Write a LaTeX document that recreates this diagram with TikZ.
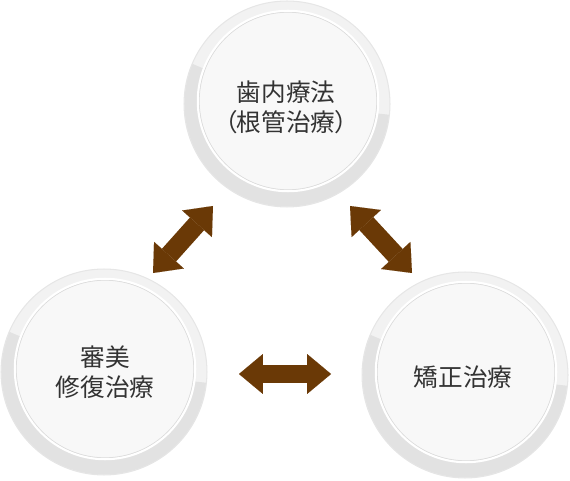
\documentclass[tikz,border=0pt]{standalone}
\usepackage{fontspec}
\setmainfont[RawFeature=+palt]{Noto Sans CJK JP}
\usetikzlibrary{arrows.meta}

\definecolor{ringlight}{HTML}{F2F2F2}
\definecolor{ringdark}{HTML}{E2E2E2}
\definecolor{ringedge}{HTML}{E6E6E6}
\definecolor{discfill}{HTML}{F8F8F8}
\definecolor{discline}{HTML}{DADADA}
\definecolor{arrowbrown}{HTML}{6A3906}
\definecolor{labeltext}{HTML}{333333}

\begin{document}
\begin{tikzpicture}[
    x=0.02cm, y=0.02cm,
    every node/.style={font=\fontsize{14}{17}\selectfont, text=labeltext},
    ring/.style={circle, fill=ringlight, draw=ringedge, line width=0.6pt, minimum size=4.12cm, inner sep=0pt},
    disc/.style={circle, fill=discfill, draw=discline, line width=0.7pt, minimum size=3.56cm, inner sep=0pt},
    rim/.style={draw=white, line width=1.2pt},
    caption/.style={align=center, inner sep=1pt},
    bothway/.style={draw=arrowbrown, line width=10.8pt,
        {Triangle[width=22.7pt, length=13.6pt, line width=0.01pt]}-{Triangle[width=22.7pt, length=13.6pt, line width=0.01pt]}}
]
\useasboundingbox (0,0) rectangle (570,480);

% -------------------------
% Circles
% -------------------------
    \node[ring] (endo-ring) at (287,376) {};
    \node[ring] (esth-ring) at (104,108) {};
    \node[ring] (orth-ring) at (465,105) {};

    \foreach \n in {endo-ring, esth-ring, orth-ring}
        \fill[ringdark] (\n.center) -- ++(157:102.5) arc[start angle=157, end angle=354, radius=102.5] -- cycle;

    \node[disc] (endo) at (288,379) {};
    \node[disc] (esth) at (105,111) {};
    \node[disc] (orth) at (466,108) {};

    \foreach \n in {endo, esth, orth}
        \draw[rim] (\n.center) circle[radius=90.2];

% -------------------------
% Labels
% -------------------------
    \node[caption] (endo-text) at (286,373) {歯内療法\\（根管治療）};
    \node[caption] (esth-text) at (105,108) {審美\\修復治療};
    \node[caption] (orth-text) at (463,103) {矯正治療};

% -------------------------
% Arrows
% -------------------------
    \coordinate (tl-low) at (153,207);
    \coordinate (tl-high) at (213,274);
    \coordinate (tr-high) at (350,274);
    \coordinate (tr-low) at (412,207);
    \coordinate (mid-left) at (239,106);
    \coordinate (mid-right) at (331,106);

    \draw[bothway] (tl-low) -- (tl-high);
    \draw[bothway] (tr-high) -- (tr-low);
    \draw[bothway] (mid-left) -- (mid-right);
\end{tikzpicture}
\end{document}
